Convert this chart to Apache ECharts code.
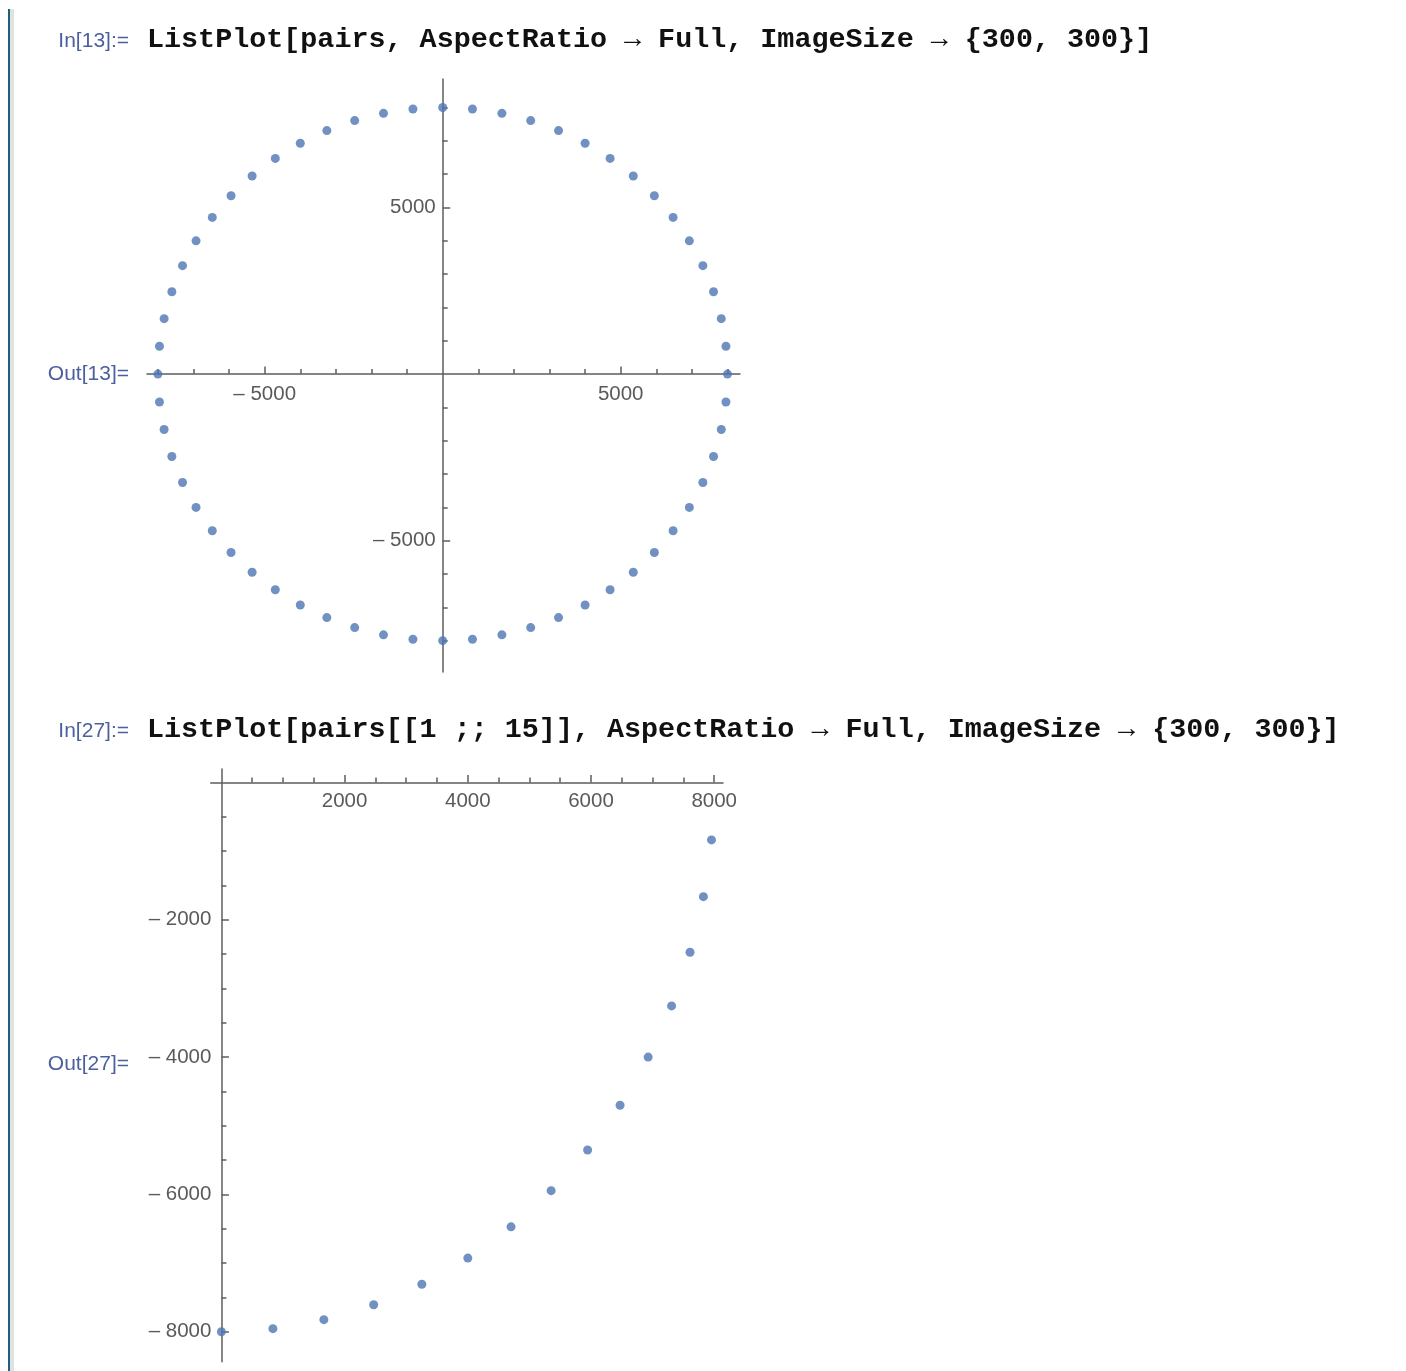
<!DOCTYPE html>
<html>
<head>
<meta charset="utf-8">
<title>ListPlot pairs</title>
<script src="https://cdn.jsdelivr.net/npm/echarts@6/dist/echarts.min.js"></script>
<style>
  html, body { margin: 0; padding: 0; background: #fff; }
  #main { width: 1406px; height: 1371px; }
</style>
</head>
<body>
<div id="main"></div>
<script>
// points, starting at (0,-8000), counter-clockwise, 6 degree steps
var pairs = [
  [0, -8000], [836, -7956], [1663, -7825], [2472, -7608], [3254, -7308],
  [4000, -6928], [4702, -6472], [5353, -5945], [5945, -5353], [6472, -4702],
  [6928, -4000], [7308, -3254], [7608, -2472], [7825, -1663], [7956, -836],
  [8000, 0], [7956, 836], [7825, 1663], [7608, 2472], [7308, 3254],
  [6928, 4000], [6472, 4702], [5945, 5353], [5353, 5945], [4702, 6472],
  [4000, 6928], [3254, 7308], [2472, 7608], [1663, 7825], [836, 7956],
  [0, 8000], [-836, 7956], [-1663, 7825], [-2472, 7608], [-3254, 7308],
  [-4000, 6928], [-4702, 6472], [-5353, 5945], [-5945, 5353], [-6472, 4702],
  [-6928, 4000], [-7308, 3254], [-7608, 2472], [-7825, 1663], [-7956, 836],
  [-8000, 0], [-7956, -836], [-7825, -1663], [-7608, -2472], [-7308, -3254],
  [-6928, -4000], [-6472, -4702], [-5945, -5353], [-5353, -5945], [-4702, -6472],
  [-4000, -6928], [-3254, -7308], [-2472, -7608], [-1663, -7825], [-836, -7956]
];
// pairs[[1 ;; 15]]
var firstPairs = pairs.slice(0, 15);

// tick values
var plot1MajorTicks = [-5000, 5000];
var plot1MinorTicks = [-8000, -7000, -6000, -4000, -3000, -2000, -1000,
                       1000, 2000, 3000, 4000, 6000, 7000, 8000];
var plot2XMajorTicks = [2000, 4000, 6000, 8000];
var plot2XMinorTicks = [500, 1000, 1500, 2500, 3000, 3500, 4500, 5000, 5500, 6500, 7000, 7500];
var plot2YMajorTicks = [-2000, -4000, -6000, -8000];
var plot2YMinorTicks = [-500, -1000, -1500, -2500, -3000, -3500, -4500, -5000, -5500, -6500, -7000, -7500];

// plot ranges
var plot1XRange = [-8306, 8351];
var plot1YRange = [-8940, 8856];
var plot2XRange = [-174, 8143];
var plot2YRange = [-8437, 197];

// notebook cell texts
var cellLabels = ['In[13]:=', 'Out[13]=', 'In[27]:=', 'Out[27]='];
var cellInputs = [
  'ListPlot[pairs, AspectRatio \u2192 Full, ImageSize \u2192 {300, 300}]',
  'ListPlot[pairs[[1 ;; 15]], AspectRatio \u2192 Full, ImageSize \u2192 {300, 300}]'
];

var grids = [
  { left: 147, top: 79, width: 593, height: 593 },
  { left: 210.7, top: 769, width: 512.3, height: 592.7 }
];

var axisColor = '#5e5e5e';
var labelColor = '#5a5a5a';
var dotColor = '#4d75b4';

function tickText(v) {
  return v < 0 ? '\u2013 ' + Math.abs(v) : String(v);
}

// axes cross at the origin: shift the axis from the grid edge to where 0 is
function zeroOffset(size, range) {
  return -size * (0 - range[0]) / (range[1] - range[0]);
}

// one axis with the long ticks and labels, one with only the short ticks
function makeAxis(dim, gi, range, ticks, isMajor, margin) {
  var g = grids[gi];
  var otherRange, otherSize;
  if (dim == 'x') {
    otherRange = gi == 0 ? plot1YRange : plot2YRange;
    otherSize = g.height;
  } else {
    otherRange = gi == 0 ? plot1XRange : plot2XRange;
    otherSize = g.width;
  }
  return {
    type: 'value',
    gridIndex: gi,
    position: dim == 'x' ? 'bottom' : 'left',
    offset: zeroOffset(otherSize, otherRange),
    min: range[0],
    max: range[1],
    axisLine: {
      show: isMajor,
      onZero: false,
      lineStyle: { color: axisColor, width: 1.5 }
    },
    axisTick: {
      show: true,
      inside: true,
      length: isMajor ? 7.5 : 5,
      customValues: ticks,
      lineStyle: { color: axisColor, width: 1.5 }
    },
    axisLabel: {
      show: isMajor,
      customValues: ticks,
      formatter: tickText,
      margin: margin,
      color: labelColor,
      fontSize: 20.5,
      fontFamily: '"Liberation Sans", Arial, sans-serif'
    },
    splitLine: { show: false },
    minorTick: { show: false }
  };
}

var myChart = echarts.init(document.getElementById('main'));

var graphics = [
  { type: 'rect', shape: { x: 8, y: 9, width: 2, height: 1362 }, style: { fill: '#1f5f7c' } },
  { type: 'rect', shape: { x: 10, y: 9, width: 4, height: 1362 }, style: { fill: '#dde2e2' } }
];
var labelPos = [[129, 41], [129, 374], [129, 731], [129, 1064]];
for (var i = 0; i < cellLabels.length; i++) {
  graphics.push({
    type: 'text',
    style: {
      text: cellLabels[i], x: labelPos[i][0], y: labelPos[i][1],
      align: 'right', verticalAlign: 'middle',
      fontSize: 21, fontFamily: '"Liberation Sans", Arial, sans-serif',
      fill: '#4c5f9e'
    }
  });
}
var inputY = [40, 730];
for (var j = 0; j < cellInputs.length; j++) {
  graphics.push({
    type: 'text',
    style: {
      text: cellInputs[j], x: 147, y: inputY[j],
      align: 'left', verticalAlign: 'middle',
      fontSize: 28.4, fontWeight: 'bold',
      fontFamily: '"Liberation Mono", "DejaVu Sans Mono", monospace',
      fill: '#111'
    }
  });
}

var option = {
  animation: false,
  backgroundColor: '#fff',
  graphic: graphics,
  grid: grids,
  xAxis: [
    makeAxis('x', 0, plot1XRange, plot1MajorTicks, true, 10),
    makeAxis('x', 0, plot1XRange, plot1MinorTicks, false, 10),
    makeAxis('x', 1, plot2XRange, plot2XMajorTicks, true, 8),
    makeAxis('x', 1, plot2XRange, plot2XMinorTicks, false, 8)
  ],
  yAxis: [
    makeAxis('y', 0, plot1YRange, plot1MajorTicks, true, 7),
    makeAxis('y', 0, plot1YRange, plot1MinorTicks, false, 7),
    makeAxis('y', 1, plot2YRange, plot2YMajorTicks, true, 10),
    makeAxis('y', 1, plot2YRange, plot2YMinorTicks, false, 10)
  ],
  series: [
    {
      type: 'scatter', xAxisIndex: 0, yAxisIndex: 0,
      data: pairs, symbolSize: 9,
      itemStyle: { color: dotColor }, z: 5
    },
    {
      type: 'scatter', xAxisIndex: 2, yAxisIndex: 2,
      data: firstPairs, symbolSize: 9,
      itemStyle: { color: dotColor }, z: 5
    }
  ]
};

myChart.setOption(option);
</script>
</body>
</html>
